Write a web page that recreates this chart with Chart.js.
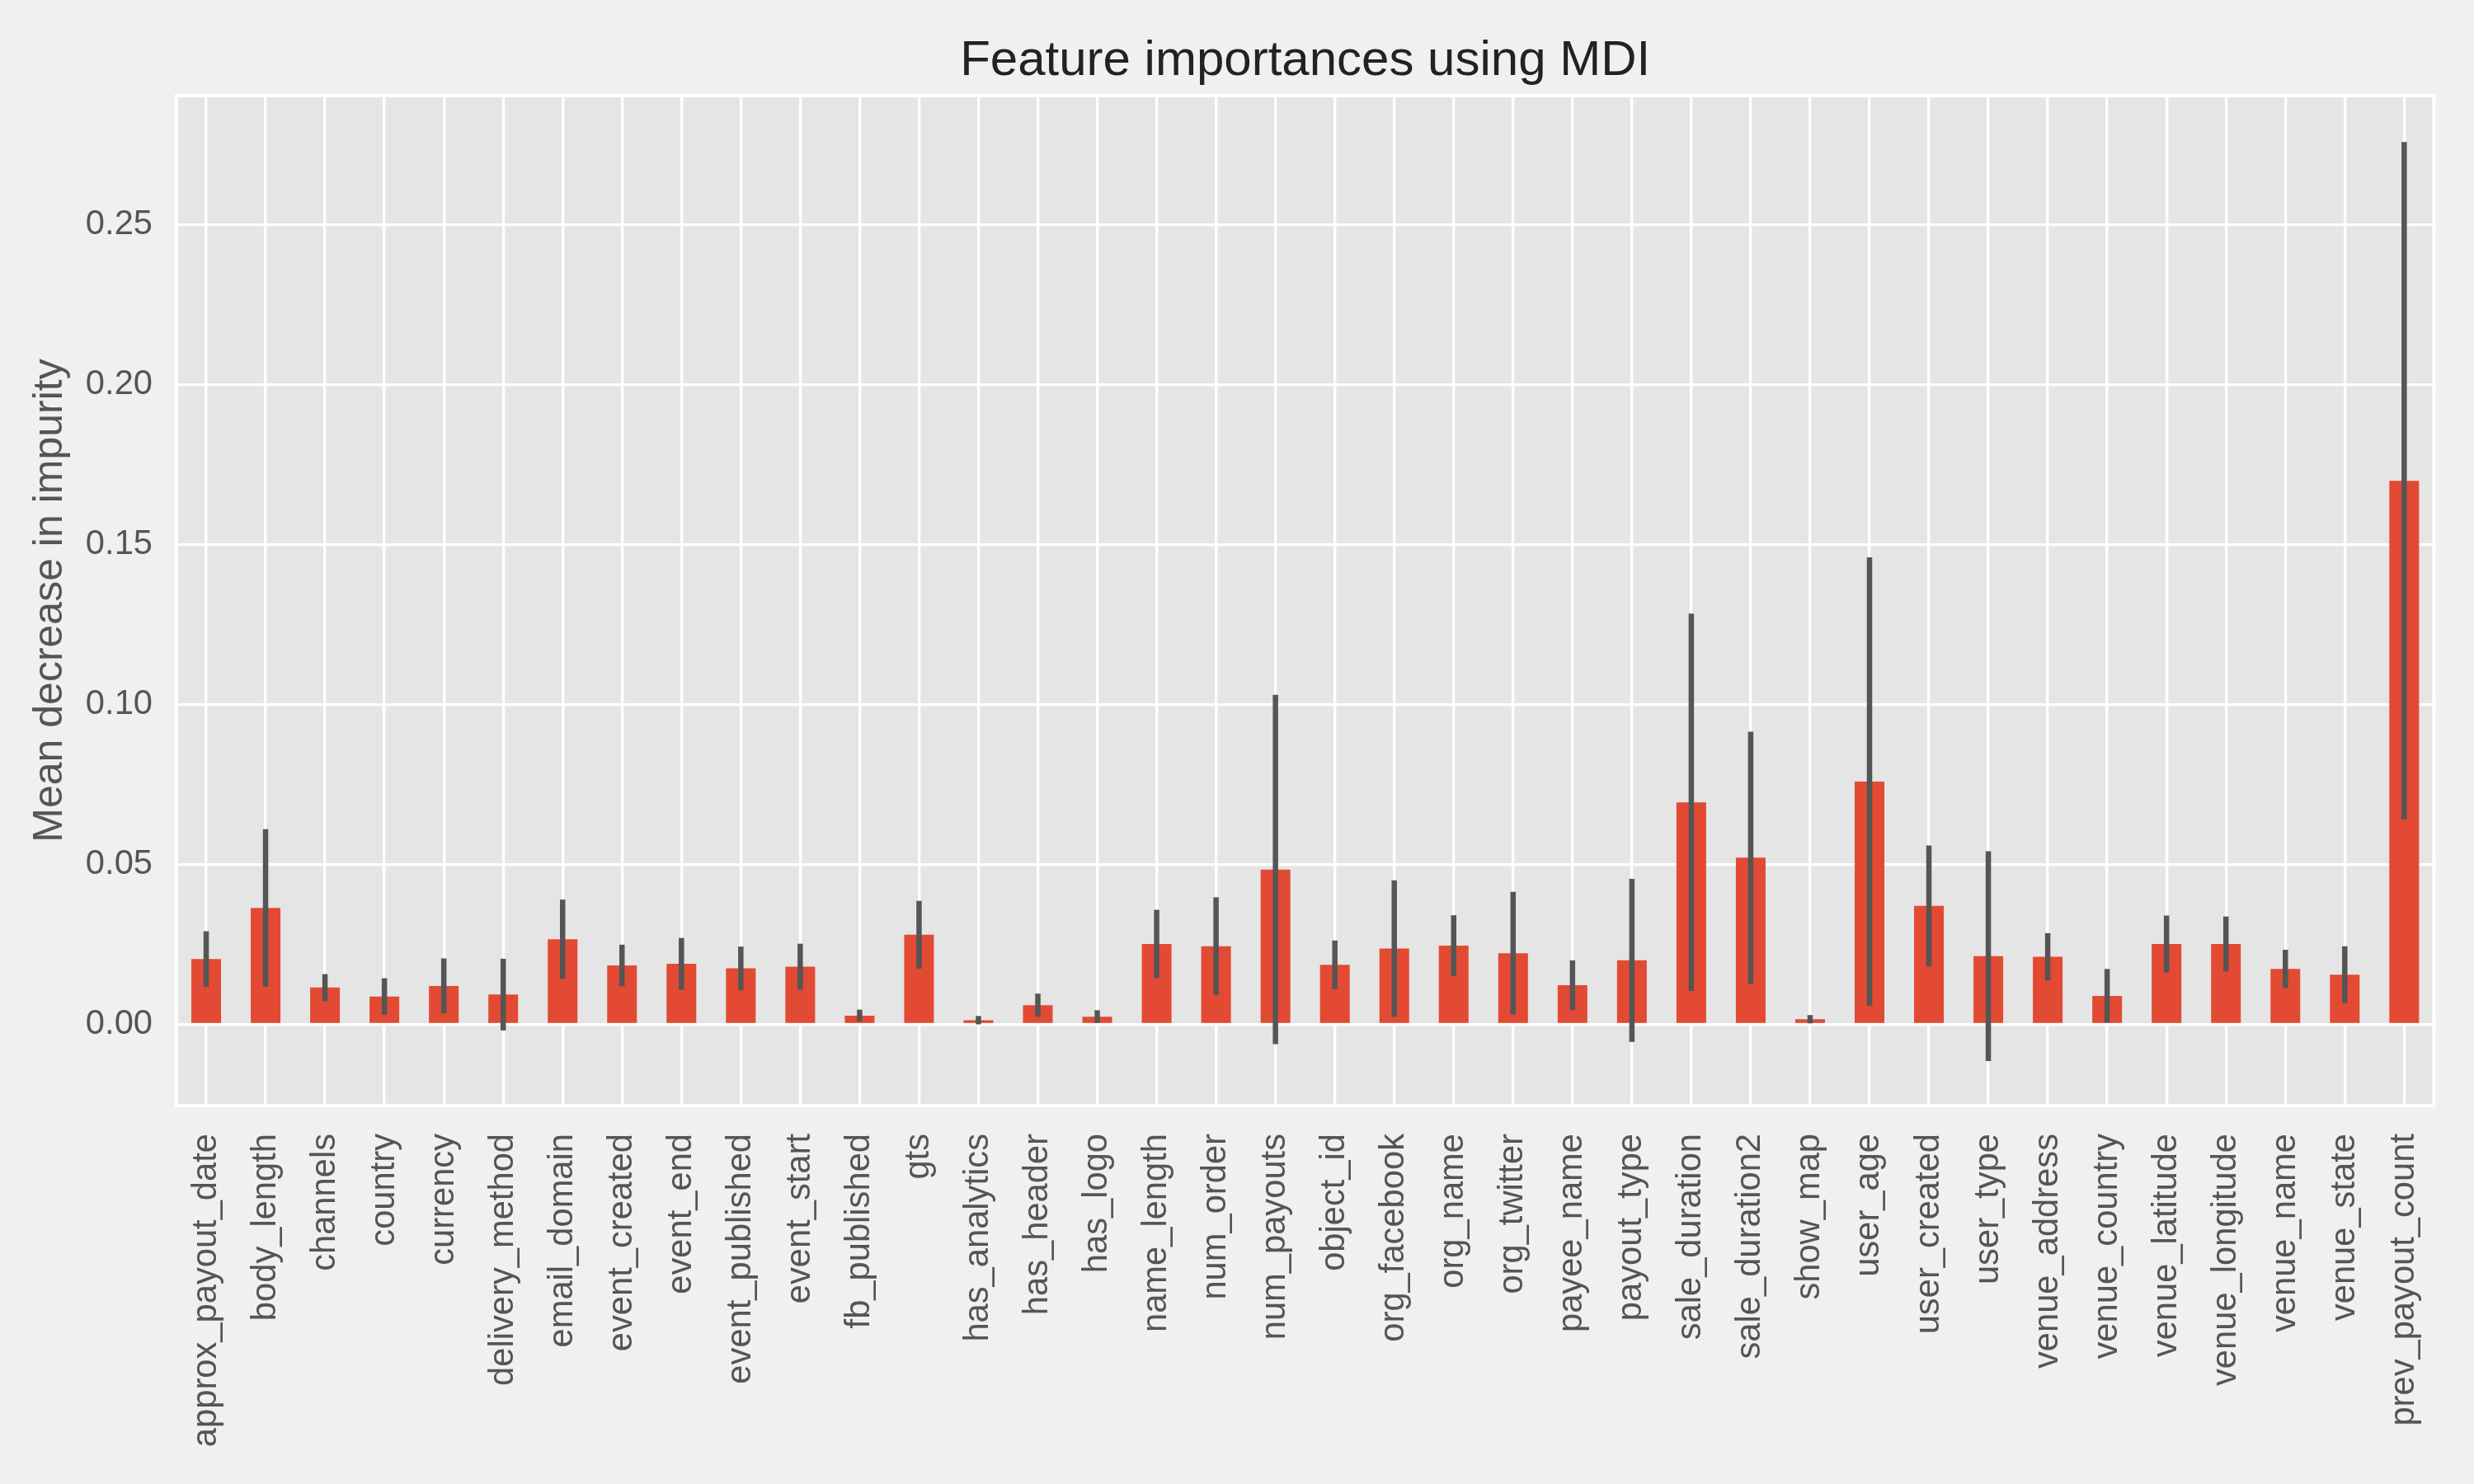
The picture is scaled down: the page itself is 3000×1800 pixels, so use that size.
<!DOCTYPE html>
<html>
<head>
  <script src="https://cdn.jsdelivr.net/npm/chart.js@4/dist/chart.umd.min.js"></script>
  <style>
    body { margin: 0; background: #f0f0f0; }
    #wrap { width: 3000px; height: 1800px; }
  </style>
</head>
<body>
  <div id="wrap">
    <canvas id="chart" width="3000" height="1800" style="width:3000px;height:1800px"></canvas>
  </div>
  <script>
// feature names (x categories)
const features = [
  'approx_payout_date', 'body_length', 'channels', 'country', 'currency',
  'delivery_method', 'email_domain', 'event_created', 'event_end', 'event_published',
  'event_start', 'fb_published', 'gts', 'has_analytics', 'has_header',
  'has_logo', 'name_length', 'num_order', 'num_payouts', 'object_id',
  'org_facebook', 'org_name', 'org_twitter', 'payee_name', 'payout_type',
  'sale_duration', 'sale_duration2', 'show_map', 'user_age', 'user_created',
  'user_type', 'venue_address', 'venue_country', 'venue_latitude', 'venue_longitude',
  'venue_name', 'venue_state', 'prev_payout_count'
];

// mean decrease in impurity
const importances = [
  0.0204, 0.0364, 0.0115, 0.0087, 0.0120,
  0.0093, 0.0266, 0.0184, 0.0189, 0.0175,
  0.0180, 0.0027, 0.0280, 0.0013, 0.0060,
  0.0024, 0.0251, 0.0244, 0.0484, 0.0186,
  0.0237, 0.0246, 0.0222, 0.0122, 0.0200,
  0.0694, 0.0521, 0.0016, 0.0759, 0.0370,
  0.0213, 0.0211, 0.0089, 0.0251, 0.0251,
  0.0173, 0.0155, 0.1699
];

// std over trees (error bars)
const stdDevs = [
  0.0087, 0.0246, 0.0042, 0.0057, 0.0086,
  0.0112, 0.0124, 0.0065, 0.0081, 0.0068,
  0.0072, 0.0019, 0.0106, 0.0013, 0.0036,
  0.0020, 0.0107, 0.0153, 0.0546, 0.0076,
  0.0213, 0.0095, 0.0192, 0.0078, 0.0255,
  0.0590, 0.0394, 0.0013, 0.0701, 0.0189,
  0.0328, 0.0074, 0.0084, 0.0089, 0.0086,
  0.0060, 0.0089, 0.1059
];

const yTicks = [0.00, 0.05, 0.10, 0.15, 0.20, 0.25];

const tickFont = { family: 'Liberation Sans', size: 41.7 };

// axes background + white frame, like matplotlib ggplot style
const axesBg = {
  id: 'axesBg',
  beforeDraw(chart) {
    const { ctx, chartArea: a } = chart;
    ctx.save();
    ctx.fillStyle = '#e5e5e5';
    ctx.fillRect(a.left, a.top, a.right - a.left, a.bottom - a.top);
    ctx.restore();
  },
  beforeDatasetsDraw(chart) {
    const { ctx, chartArea: a } = chart;
    ctx.save();
    ctx.strokeStyle = '#ffffff';
    ctx.lineWidth = 4;
    ctx.strokeRect(a.left, a.top, a.right - a.left, a.bottom - a.top);
    ctx.restore();
  }
};

// vertical error bars from stdDevs
const errorBars = {
  id: 'errorBars',
  afterDatasetsDraw(chart) {
    const { ctx } = chart;
    const y = chart.scales.y;
    const meta = chart.getDatasetMeta(0);
    ctx.save();
    ctx.strokeStyle = '#555555';
    ctx.lineWidth = 6.5;
    meta.data.forEach((bar, i) => {
      const v = importances[i], s = stdDevs[i];
      ctx.beginPath();
      ctx.moveTo(bar.x, y.getPixelForValue(v - s));
      ctx.lineTo(bar.x, y.getPixelForValue(v + s));
      ctx.stroke();
    });
    ctx.restore();
  }
};

new Chart(document.getElementById('chart'), {
  type: 'bar',
  data: {
    labels: features,
    datasets: [{
      data: importances,
      backgroundColor: '#e24a33',
      borderWidth: 0,
      barPercentage: 0.5,
      categoryPercentage: 1.0
    }]
  },
  options: {
    responsive: false,
    devicePixelRatio: 1,
    animation: false,
    layout: { padding: { left: 0, right: 45, top: 0, bottom: 0 } },
    plugins: {
      legend: { display: false },
      tooltip: { enabled: false },
      title: {
        display: true,
        text: 'Feature importances using MDI',
        fullSize: false,
        color: '#222222',
        font: { family: 'Liberation Sans', size: 60, weight: 'normal' },
        padding: { top: 38, bottom: 6 }
      }
    },
    scales: {
      x: {
        offset: true,
        grid: { color: '#ffffff', lineWidth: 3.3, offset: false, drawTicks: false },
        border: { display: false },
        ticks: {
          autoSkip: false,
          minRotation: 90,
          maxRotation: 90,
          padding: 34,
          color: '#555555',
          font: tickFont
        },
        afterFit(scale) { scale.height = 459; }
      },
      y: {
        min: -0.0254,
        max: 0.2903,
        grid: { color: '#ffffff', lineWidth: 3.3, drawTicks: false },
        border: { display: false },
        ticks: {
          padding: 29,
          color: '#555555',
          font: tickFont,
          callback: (v) => v.toFixed(2)
        },
        afterBuildTicks(scale) {
          scale.ticks = yTicks.map(v => ({ value: v }));
        },
        title: {
          display: true,
          text: 'Mean decrease in impurity',
          color: '#555555',
          font: { family: 'Liberation Sans', size: 50 },
          padding: { top: 31, bottom: 0 }
        },
        afterFit(scale) { scale.width = 214; }
      }
    }
  },
  plugins: [axesBg, errorBars]
});
  </script>
</body>
</html>
